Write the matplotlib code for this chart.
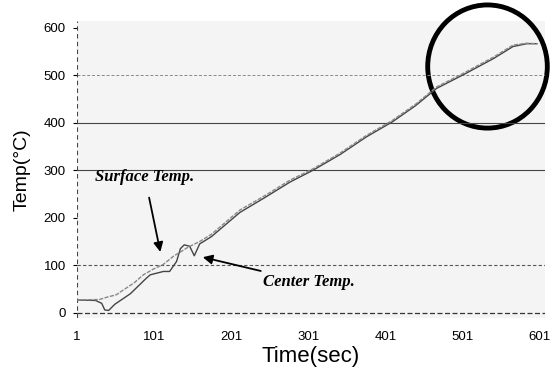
import matplotlib.pyplot as plt
from matplotlib.patches import Ellipse

# values
surface_time = [1, 30, 40, 52, 61, 75, 87, 100, 113, 126, 135, 145, 160, 175, 212, 245, 277,
                307, 342, 376, 410, 440, 467, 502, 541, 566, 584, 597]
surface_temp = [27, 28, 33, 38, 48, 63, 80, 92, 102, 119, 128, 138, 150, 165, 216, 247, 279,
                303, 336, 373, 405, 439, 475, 504, 538, 563, 567, 566]

center_time = [1, 25, 33, 37, 42, 50, 70, 91, 96, 113, 121, 130, 135, 140, 147, 153, 160, 175,
               212, 245, 277, 307, 342, 376, 410, 440, 467, 502, 541, 566, 584, 597]
center_temp = [27, 26, 20, 6, 5, 18, 40, 73, 80, 87, 87, 108, 135, 143, 140, 120, 145, 160,
               211, 243, 275, 300, 333, 370, 402, 436, 472, 501, 535, 560, 566, 566]

x_ticks = [1, 101, 201, 301, 401, 501, 601]
y_ticks = [0, 100, 200, 300, 400, 500, 600]

fig = plt.figure(figsize=(5.58, 3.68), dpi=100)
ax = fig.add_axes([0.138, 0.137, 0.838, 0.805])
ax.set_facecolor('#f4f4f4')

# horizontal reference lines
ax.axhline(0, color='#333333', lw=0.9, ls=(0, (4, 2)))
ax.axhline(100, color='#555555', lw=0.8, ls=(0, (3, 2)))
ax.axhline(300, color='#444444', lw=0.8)
ax.axhline(400, color='#444444', lw=0.8)
ax.axhline(500, color='#888888', lw=0.7, ls=(0, (3, 2)))
ax.axvline(1, color='#444444', lw=0.8, ls=(0, (4, 3)))

ax.plot(center_time, center_temp, color='#444444', lw=1.0)
ax.plot(surface_time, surface_temp, color='#888888', lw=1.0, ls=(0, (3, 1)))

ax.set_xlim(1, 607)
ax.set_ylim(-10, 613)
ax.set_xticks(x_ticks)
ax.set_yticks(y_ticks)
for s in ax.spines.values():
    s.set_visible(False)
ax.tick_params(axis='x', length=0, pad=10, labelsize=9.5)
ax.tick_params(axis='y', length=3, width=0.8, pad=5, labelsize=9.5)
for lab in ax.get_xticklabels() + ax.get_yticklabels():
    lab.set_family('Liberation Sans')

ax.set_xlabel('Time(sec)', fontsize=16, family='Liberation Sans', labelpad=2)
ax.set_ylabel('Temp(°C)', fontsize=14, family='Liberation Sans')
ax.yaxis.set_label_coords(-0.1, 0.5)

ax.annotate('Surface Temp.', xy=(109, 128), xytext=(89, 285),
            ha='center', va='center', fontsize=12, family='Liberation Serif',
            style='italic', weight='bold',
            arrowprops=dict(arrowstyle='-|>', color='black', lw=1.3,
                            shrinkA=7, shrinkB=0, mutation_scale=14))
ax.annotate('Center Temp.', xy=(164, 117), xytext=(242, 64),
            ha='left', va='center', fontsize=12, family='Liberation Serif',
            style='italic', weight='bold',
            arrowprops=dict(arrowstyle='-|>', color='black', lw=1.3,
                            shrinkA=2, shrinkB=0, mutation_scale=14))

ax.add_patch(Ellipse((533, 518), 155, 259, fill=False, ec='black', lw=3.5, clip_on=False))

fig.savefig('out.png', dpi=100)
